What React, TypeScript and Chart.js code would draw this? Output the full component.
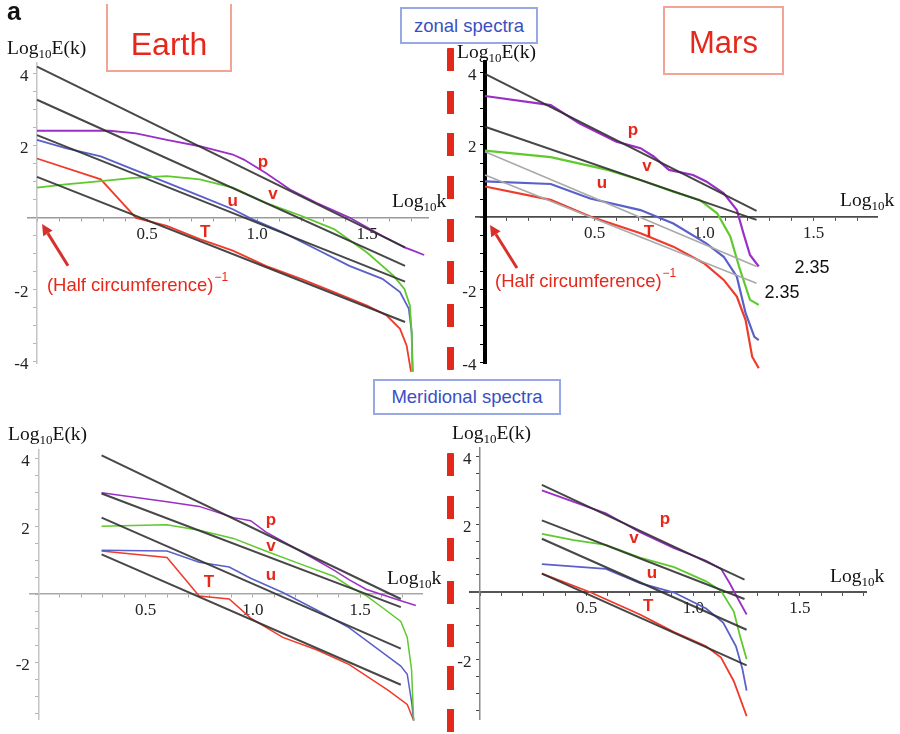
import React, { useEffect, useRef } from "react";
import { Chart, registerables } from "chart.js";

Chart.register(...registerables);
if (typeof document !== "undefined") {
  document.body.style.margin = "0";
}

type Pt = [number, number];

// ---------------- data: [log10 k, log10 E(k)] ----------------
// Earth – zonal spectra
const earthZonalFitP: Pt[] = [[0, 4.2], [1.673, -0.82]];
const earthZonalFitV: Pt[] = [[0, 3.28], [1.673, -1.33]];
const earthZonalFitU: Pt[] = [[0, 2.3], [1.673, -1.77]];
const earthZonalFitT: Pt[] = [[0, 1.14], [1.673, -2.89]];
const earthZonalP: Pt[] = [[0, 2.42], [0.33, 2.42], [0.45, 2.35], [0.59, 2.17], [0.74, 1.99], [0.89, 1.76], [0.94, 1.62], [1.04, 1.25], [1.15, 0.79], [1.27, 0.42], [1.42, 0.01], [1.57, -0.5], [1.67, -0.82], [1.71, -0.91], [1.76, -1.03]];
const earthZonalV: Pt[] = [[0, 0.84], [0.13, 0.93], [0.29, 1.02], [0.44, 1.11], [0.59, 1.16], [0.74, 1.07], [0.89, 0.84], [1.04, 0.42], [1.2, 0.06], [1.35, -0.31], [1.5, -0.96], [1.62, -1.6], [1.67, -1.97], [1.695, -2.43], [1.703, -3.17], [1.706, -4.27]];
const earthZonalU: Pt[] = [[0, 2.17], [0.13, 1.94], [0.29, 1.71], [0.44, 1.34], [0.59, 0.98], [0.74, 0.61], [0.89, 0.24], [0.98, -0.04], [1.12, -0.41], [1.27, -0.87], [1.42, -1.33], [1.57, -1.69], [1.65, -2.06], [1.69, -2.52], [1.703, -3.17], [1.708, -4.27]];
const earthZonalT: Pt[] = [[0, 1.65], [0.29, 1.07], [0.45, 0], [0.59, -0.22], [0.74, -0.59], [0.89, -0.91], [1.04, -1.33], [1.2, -1.69], [1.35, -2.06], [1.5, -2.43], [1.59, -2.71], [1.65, -3.08], [1.68, -3.54], [1.7, -4.27]];

// Mars – zonal spectra
const marsZonalFitP: Pt[] = [[0, 3.96], [1.24, 0.18]];
const marsZonalFitV: Pt[] = [[0, 2.5], [1.24, -0.07]];
const marsZonalSlopeA: Pt[] = [[0, 1.81], [1.24, -1.36]];
const marsZonalSlopeB: Pt[] = [[0, 1.17], [1.24, -1.82]];
const marsZonalP: Pt[] = [[0, 3.35], [0.3, 3.1], [0.43, 2.6], [0.6, 2.09], [0.71, 1.91], [0.77, 1.68], [0.84, 1.31], [0.95, 1.17], [1.01, 0.99], [1.09, 0.66], [1.15, 0.2], [1.18, -0.44], [1.21, -1.04], [1.25, -1.36]];
const marsZonalV: Pt[] = [[0, 1.84], [0.3, 1.66], [0.56, 1.31], [0.71, 1.03], [0.86, 0.71], [0.98, 0.48], [1.06, 0.11], [1.12, -0.53], [1.16, -1.36], [1.21, -2.28], [1.25, -2.42]];
const marsZonalU: Pt[] = [[0, 0.99], [0.3, 0.92], [0.48, 0.52], [0.71, 0.2], [0.86, -0.17], [1.01, -0.72], [1.09, -1.09], [1.15, -1.64], [1.19, -2.65], [1.23, -3.3], [1.25, -3.39]];
const marsZonalT: Pt[] = [[0, 0.85], [0.3, 0.48], [0.48, 0.02], [0.71, -0.44], [0.86, -0.81], [1.0, -1.27], [1.09, -1.73], [1.15, -2.19], [1.19, -2.84], [1.22, -3.85], [1.25, -4.17]];

// Earth – meridional spectra
const earthMeridFitP: Pt[] = [[0.295, 4.08], [1.69, -0.14]];
const earthMeridFitV: Pt[] = [[0.295, 2.96], [1.69, -0.38]];
const earthMeridFitU: Pt[] = [[0.295, 2.25], [1.69, -1.6]];
const earthMeridFitT: Pt[] = [[0.295, 1.17], [1.69, -2.66]];
const earthMeridP: Pt[] = [[0.295, 2.98], [0.6, 2.72], [0.75, 2.58], [0.91, 2.25], [0.99, 2.16], [1.06, 1.83], [1.14, 1.55], [1.3, 0.99], [1.38, 0.7], [1.45, 0.42], [1.53, 0.14], [1.69, -0.19], [1.76, -0.33]];
const earthMeridV: Pt[] = [[0.295, 2.0], [0.44, 2.02], [0.6, 2.04], [0.75, 1.88], [0.91, 1.64], [1.06, 1.27], [1.22, 0.89], [1.38, 0.52], [1.45, 0.23], [1.53, -0.05], [1.61, -0.42], [1.69, -0.8], [1.72, -1.27], [1.74, -2.21], [1.75, -3.71]];
const earthMeridU: Pt[] = [[0.295, 1.29], [0.6, 1.27], [0.75, 0.94], [0.89, 0.8], [0.99, 0.47], [1.14, 0.05], [1.3, -0.47], [1.45, -0.99], [1.61, -1.74], [1.69, -2.11], [1.72, -2.35], [1.74, -3.15], [1.75, -3.71]];
const earthMeridT: Pt[] = [[0.295, 1.27], [0.6, 1.08], [0.75, -0.05], [0.89, -0.14], [0.99, -0.7], [1.14, -1.27], [1.3, -1.64], [1.45, -2.07], [1.63, -2.82], [1.72, -3.24], [1.75, -3.71]];

// Mars – meridional spectra
const marsMeridFitP: Pt[] = [[0.29, 3.16], [1.24, 0.36]];
const marsMeridFitV: Pt[] = [[0.29, 2.11], [1.24, -0.21]];
const marsMeridFitU: Pt[] = [[0.29, 1.57], [1.25, -1.12]];
const marsMeridFitT: Pt[] = [[0.29, 0.54], [1.25, -2.17]];
const marsMeridP: Pt[] = [[0.29, 3.0], [0.59, 2.32], [0.75, 1.76], [0.91, 1.29], [1.06, 0.92], [1.13, 0.68], [1.17, 0.26], [1.21, -0.21], [1.25, -0.67]];
const marsMeridV: Pt[] = [[0.29, 1.71], [0.44, 1.53], [0.59, 1.39], [0.75, 1.01], [0.91, 0.73], [1.06, 0.31], [1.13, 0.03], [1.19, -0.58], [1.22, -1.33], [1.25, -1.99]];
const marsMeridU: Pt[] = [[0.29, 0.82], [0.59, 0.68], [0.75, 0.26], [0.91, -0.02], [1.06, -0.49], [1.14, -0.91], [1.2, -1.61], [1.23, -2.27], [1.25, -2.92]];
const marsMeridT: Pt[] = [[0.29, 0.54], [0.52, -0.02], [0.75, -0.67], [0.91, -1.19], [1.06, -1.61], [1.13, -1.94], [1.19, -2.64], [1.25, -3.67]];

const xTickLabels = [0.5, 1.0, 1.5];
const yTickLabels = [4, 2, -2, -4];
const slopeLabels = ["2.35", "2.35"];
const seriesNames = ["p", "v", "u", "T"];

// ---------------- styles ----------------
const C_P = "#9a2fc6";
const C_V = "#5fc92d";
const C_U = "#5a60c9";
const C_T = "#ef3b2b";
const C_FIT = "rgba(45,45,45,0.88)";
const C_GREY = "#a9a9a9";
const RED_TEXT = "#e6281b";
const SERIF = "'Liberation Serif', 'Times New Roman', serif";
const SANS = "'Liberation Sans', Arial, Helvetica, sans-serif";

type Ann =
  | { type: "text"; x: number; y: number; text: string; font: string; color: string }
  | { type: "log"; x: number; y: number; rest: string }
  | { type: "arrow"; x1: number; y1: number; x2: number; y2: number }
  | { type: "sup"; x: number; y: number; text: string; sup: string };

interface Line { pts: Pt[]; color: string; width: number }
interface PanelCfg {
  rect: { l: number; t: number; w: number; h: number };
  ox: number; oy: number; sx: number; sy: number;
  xMin: number; xMax: number; yMin: number; yMax: number;
  xAxis: { color: string; width: number; tick: string };
  yAxis: { color: string; width: number; tick: string };
  lines: Line[];
  anns: Ann[];
}

const lblFont = `bold 17px ${SANS}`;
const nameAnns = (pos: Pt[]): Ann[] =>
  seriesNames.map((n, i) => ({ type: "text", x: pos[i][0], y: pos[i][1], text: n, font: lblFont, color: RED_TEXT }));

const panels: PanelCfg[] = [
  {
    rect: { l: 0, t: 0, w: 450, h: 378 },
    ox: 37, oy: 218.7, sx: 220, sy: 36.2,
    xMin: -0.04, xMax: 1.78, yMin: -4.05, yMax: 4.3,
    xAxis: { color: "#9a9a9a", width: 1.5, tick: "#9a9a9a" },
    yAxis: { color: "#c4c4c4", width: 1.5, tick: "#b5b5b5" },
    lines: [
      { pts: earthZonalFitP, color: C_FIT, width: 2 },
      { pts: earthZonalFitV, color: C_FIT, width: 2 },
      { pts: earthZonalFitU, color: C_FIT, width: 2 },
      { pts: earthZonalFitT, color: C_FIT, width: 2 },
      { pts: earthZonalP, color: C_P, width: 1.8 },
      { pts: earthZonalV, color: C_V, width: 1.8 },
      { pts: earthZonalU, color: C_U, width: 1.8 },
      { pts: earthZonalT, color: C_T, width: 1.8 },
    ],
    anns: [
      ...nameAnns([[1.027, 1.54], [1.073, 0.65], [0.89, 0.46], [0.764, -0.4]]),
      { type: "arrow", x1: 0.141, y1: -1.33, x2: 0.023, y2: -0.17 },
      { type: "sup", x: 0.045, y: -1.89, text: "(Half circumference)", sup: "−1" },
      { type: "log", x: -0.136, y: 4.72, rest: "E(k)" },
      { type: "log", x: 1.614, y: 0.46, rest: "k" },
    ],
  },
  {
    rect: { l: 450, t: 0, w: 450, h: 378 },
    ox: 485, oy: 217.3, sx: 219, sy: 36.2,
    xMin: -0.04, xMax: 1.79, yMin: -4.03, yMax: 4.29,
    xAxis: { color: "#4a4a4a", width: 1.8, tick: "#4a4a4a" },
    yAxis: { color: "#000000", width: 4, tick: "#000000" },
    lines: [
      { pts: marsZonalFitP, color: C_FIT, width: 2 },
      { pts: marsZonalFitV, color: C_FIT, width: 2 },
      { pts: marsZonalSlopeA, color: C_GREY, width: 1.5 },
      { pts: marsZonalSlopeB, color: C_GREY, width: 1.5 },
      { pts: marsZonalP, color: C_P, width: 2.2 },
      { pts: marsZonalV, color: C_V, width: 2.2 },
      { pts: marsZonalU, color: C_U, width: 2.2 },
      { pts: marsZonalT, color: C_T, width: 2.2 },
    ],
    anns: [
      ...nameAnns([[0.676, 2.41], [0.74, 1.42], [0.534, 0.95], [0.749, -0.41]]),
      { type: "arrow", x1: 0.146, y1: -1.4, x2: 0.023, y2: -0.21 },
      { type: "sup", x: 0.046, y: -1.78, text: "(Half circumference)", sup: "−1" },
      { type: "log", x: -0.128, y: 4.57, rest: "E(k)" },
      { type: "log", x: 1.621, y: 0.48, rest: "k" },
      { type: "text", x: 1.493, y: -1.4, text: slopeLabels[0], font: `18px ${SANS}`, color: "#111" },
      { type: "text", x: 1.356, y: -2.09, text: slopeLabels[1], font: `18px ${SANS}`, color: "#111" },
    ],
  },
  {
    rect: { l: 0, t: 378, w: 450, h: 356 },
    ox: 38.3, oy: 601.7, sx: 214.5, sy: 35.8,
    xMin: -0.04, xMax: 1.79, yMin: -3.69, yMax: 4.24,
    xAxis: { color: "#a8a8a8", width: 1.5, tick: "#a8a8a8" },
    yAxis: { color: "#c4c4c4", width: 1.5, tick: "#b5b5b5" },
    lines: [
      { pts: earthMeridFitP, color: C_FIT, width: 2 },
      { pts: earthMeridFitV, color: C_FIT, width: 2 },
      { pts: earthMeridFitU, color: C_FIT, width: 2 },
      { pts: earthMeridFitT, color: C_FIT, width: 2 },
      { pts: earthMeridP, color: C_P, width: 1.5 },
      { pts: earthMeridV, color: C_V, width: 1.5 },
      { pts: earthMeridU, color: C_U, width: 1.5 },
      { pts: earthMeridT, color: C_T, width: 1.5 },
    ],
    anns: [
      ...nameAnns([[1.085, 2.17], [1.085, 1.42], [1.085, 0.55], [0.796, 0.36]]),
      { type: "log", x: -0.141, y: 4.71, rest: "E(k)" },
      { type: "log", x: 1.626, y: 0.49, rest: "k" },
    ],
  },
  {
    rect: { l: 450, t: 378, w: 450, h: 356 },
    ox: 480, oy: 599.3, sx: 213.3, sy: 35.6,
    xMin: -0.045, xMax: 1.81, yMin: -3.78, yMax: 4.25,
    xAxis: { color: "#555555", width: 2, tick: "#555555" },
    yAxis: { color: "#8a8a8a", width: 1.5, tick: "#444444" },
    lines: [
      { pts: marsMeridFitP, color: C_FIT, width: 2 },
      { pts: marsMeridFitV, color: C_FIT, width: 2 },
      { pts: marsMeridFitU, color: C_FIT, width: 2 },
      { pts: marsMeridFitT, color: C_FIT, width: 2 },
      { pts: marsMeridP, color: C_P, width: 1.8 },
      { pts: marsMeridV, color: C_V, width: 1.8 },
      { pts: marsMeridU, color: C_U, width: 1.8 },
      { pts: marsMeridT, color: C_T, width: 1.8 },
    ],
    anns: [
      ...nameAnns([[0.867, 2.14], [0.722, 1.58], [0.806, 0.54], [0.788, -0.44]]),
      { type: "log", x: -0.131, y: 4.7, rest: "E(k)" },
      { type: "log", x: 1.641, y: 0.46, rest: "k" },
    ],
  },
];

function makeAnnotPlugin(anns: Ann[]) {
  return {
    id: "annot",
    afterDraw(chart: any) {
      const ctx: CanvasRenderingContext2D = chart.ctx;
      const X = (v: number) => chart.scales.x.getPixelForValue(v);
      const Y = (v: number) => chart.scales.y.getPixelForValue(v);
      ctx.save();
      for (const a of anns) {
        if (a.type === "text") {
          ctx.font = a.font;
          ctx.fillStyle = a.color;
          ctx.textAlign = "center";
          ctx.textBaseline = "middle";
          ctx.fillText(a.text, X(a.x), Y(a.y));
        } else if (a.type === "log") {
          const x = X(a.x);
          const base = Y(a.y) + 6;
          ctx.fillStyle = "#111";
          ctx.textAlign = "left";
          ctx.textBaseline = "alphabetic";
          ctx.font = `19.5px ${SERIF}`;
          ctx.fillText("Log", x, base);
          let w = ctx.measureText("Log").width;
          ctx.font = `13px ${SERIF}`;
          ctx.fillText("10", x + w, base + 4);
          w += ctx.measureText("10").width;
          ctx.font = `19.5px ${SERIF}`;
          ctx.fillText(a.rest, x + w, base);
        } else if (a.type === "arrow") {
          const x1 = X(a.x1), y1 = Y(a.y1), x2 = X(a.x2), y2 = Y(a.y2);
          const ang = Math.atan2(y2 - y1, x2 - x1);
          const hl = 11, hw = 5.5;
          const bx = x2 - hl * Math.cos(ang), by = y2 - hl * Math.sin(ang);
          ctx.strokeStyle = "#d8302a";
          ctx.fillStyle = "#d8302a";
          ctx.lineWidth = 3;
          ctx.beginPath();
          ctx.moveTo(x1, y1);
          ctx.lineTo(bx, by);
          ctx.stroke();
          ctx.beginPath();
          ctx.moveTo(x2, y2);
          ctx.lineTo(bx + hw * Math.sin(ang), by - hw * Math.cos(ang));
          ctx.lineTo(bx - hw * Math.sin(ang), by + hw * Math.cos(ang));
          ctx.closePath();
          ctx.fill();
        } else if (a.type === "sup") {
          const x = X(a.x), y = Y(a.y);
          ctx.fillStyle = RED_TEXT;
          ctx.textAlign = "left";
          ctx.textBaseline = "middle";
          ctx.font = `18.5px ${SANS}`;
          ctx.fillText(a.text, x, y);
          const w = ctx.measureText(a.text).width;
          ctx.font = `12px ${SANS}`;
          ctx.fillText(a.sup, x + w + 1, y - 8);
        }
      }
      ctx.restore();
    },
  };
}

const near = (list: number[], v: number) => list.find((t) => Math.abs(t - v) < 1e-6);

function Panel({ cfg }: { cfg: PanelCfg }) {
  const ref = useRef<HTMLCanvasElement>(null);
  useEffect(() => {
    const c = ref.current;
    if (!c) return;
    const { rect, ox, oy, sx, sy, xMin, xMax, yMin, yMax } = cfg;
    const padding = {
      left: ox + xMin * sx - rect.l,
      right: rect.l + rect.w - (ox + xMax * sx),
      top: oy - yMax * sy - rect.t,
      bottom: Math.max(0, rect.t + rect.h - (oy - yMin * sy)),
    };
    const tickFont = { family: SERIF, size: 17 };
    const chart = new Chart(c, {
      type: "line",
      data: {
        datasets: cfg.lines.map((ln) => ({
          data: ln.pts.map(([x, y]) => ({ x, y })),
          borderColor: ln.color,
          borderWidth: ln.width,
          pointRadius: 0,
          fill: false,
          tension: 0,
          clip: false as any,
        })),
      },
      options: {
        animation: false,
        responsive: false,
        devicePixelRatio: 1,
        events: [],
        layout: { padding },
        plugins: { legend: { display: false }, tooltip: { enabled: false }, title: { display: false } },
        scales: {
          x: {
            type: "linear",
            min: xMin,
            max: xMax,
            position: { y: 0 } as any,
            grid: { display: true, drawOnChartArea: false, drawTicks: true, tickLength: 3, color: cfg.xAxis.tick, lineWidth: 1 },
            border: { display: true, color: cfg.xAxis.color, width: cfg.xAxis.width },
            ticks: {
              stepSize: 0.1,
              autoSkip: false,
              includeBounds: false,
              maxRotation: 0,
              minRotation: 0,
              padding: 3,
              color: "#222",
              font: tickFont,
              callback: (v: any) => {
                const t = near(xTickLabels, Number(v));
                return t === undefined ? "" : t.toFixed(1);
              },
            },
          },
          y: {
            type: "linear",
            min: yMin,
            max: yMax,
            position: { x: 0 } as any,
            grid: { display: true, drawOnChartArea: false, drawTicks: true, tickLength: 3, color: cfg.yAxis.tick, lineWidth: 1 },
            border: { display: true, color: cfg.yAxis.color, width: cfg.yAxis.width },
            ticks: {
              stepSize: 0.5,
              autoSkip: false,
              includeBounds: false,
              padding: 4,
              labelOffset: 3,
              color: "#222",
              font: tickFont,
              callback: (v: any) => {
                const t = near(yTickLabels, Number(v));
                return t === undefined ? "" : String(t) + "\u00a0\u00a0";
              },
            },
          },
        },
      } as any,
      plugins: [makeAnnotPlugin(cfg.anns)],
    });
    return () => chart.destroy();
  }, [cfg]);
  return (
    <canvas
      ref={ref}
      width={cfg.rect.w}
      height={cfg.rect.h}
      style={{ position: "absolute", left: cfg.rect.l, top: cfg.rect.t, width: cfg.rect.w, height: cfg.rect.h }}
    />
  );
}

const dash = "repeating-linear-gradient(to bottom, #e2291b 0px, #e2291b 23px, transparent 23px, transparent 42.7px)";
const blueBox = {
  position: "absolute" as const,
  boxSizing: "border-box" as const,
  border: "2px solid #98a8e4",
  background: "#fff",
  display: "flex",
  alignItems: "center",
  justifyContent: "center",
  fontSize: 18.5,
  color: "#3a4fc2",
};

export default function App() {
  return (
    <div style={{ position: "relative", width: 900, height: 734, background: "#fff", overflow: "hidden", fontFamily: SANS }}>
      <div style={{ position: "absolute", left: 447, top: 48, width: 7, height: 322, background: dash, borderRadius: 1 }} />
      <div style={{ position: "absolute", left: 447, top: 453, width: 7, height: 281, background: dash, borderRadius: 1 }} />
      {panels.map((p, i) => (
        <Panel key={i} cfg={p} />
      ))}
      <div style={{ position: "absolute", left: 7, top: -1, fontSize: 25, fontWeight: "bold", lineHeight: "25px", color: "#111" }}>a</div>
      {/* Earth label box */}
      <div style={{ position: "absolute", left: 106, top: 4, width: 126, height: 68, boxSizing: "border-box", borderLeft: "2px solid #f2a596", borderRight: "2px solid #f2a596", borderBottom: "2px solid #f2a596" }} />
      <div style={{ position: "absolute", left: 106, top: 28, width: 126, textAlign: "center", fontSize: 32, lineHeight: "32px", color: RED_TEXT }}>Earth</div>
      {/* Mars label box */}
      <div style={{ position: "absolute", left: 663, top: 6, width: 121, height: 69, boxSizing: "border-box", border: "2px solid #f2a596" }} />
      <div style={{ position: "absolute", left: 663, top: 27, width: 121, textAlign: "center", fontSize: 31, lineHeight: "31px", color: RED_TEXT }}>Mars</div>
      <div style={{ ...blueBox, left: 400, top: 7, width: 138, height: 37 }}>zonal spectra</div>
      <div style={{ ...blueBox, left: 373, top: 379, width: 188, height: 36 }}>Meridional spectra</div>
    </div>
  );
}
